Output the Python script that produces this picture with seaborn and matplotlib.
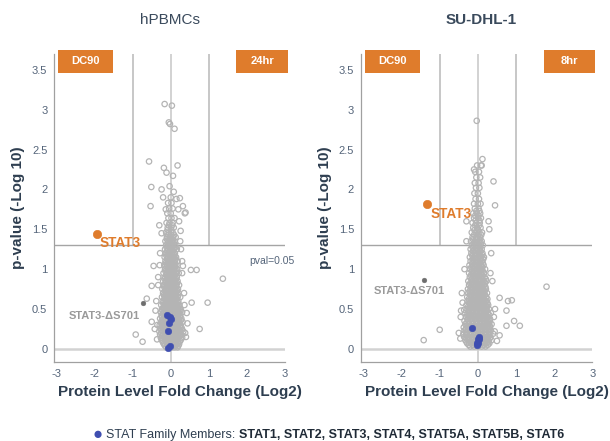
import matplotlib
matplotlib.use("Agg")
import matplotlib.pyplot as plt
import seaborn as sns
import pandas as pd
from matplotlib.patches import Rectangle

# ---- data (log2 fold change, -log10 p) ----

# hPBMCs: dense core, one row per -log10(p) level with the fold changes on it
pbmc_rows = [
    (0.02, [-0.12, -0.05, 0.03, 0.10, 0.18]),
    (0.04, [-0.15, -0.08, -0.01, 0.06, 0.13, 0.20]),
    (0.06, [-0.18, -0.08, 0.00, 0.07, 0.14, 0.22]),
    (0.08, [-0.20, -0.11, -0.03, 0.05, 0.12, 0.19]),
    (0.10, [-0.22, -0.14, -0.06, 0.02, 0.09, 0.16, 0.25]),
    (0.12, [-0.24, -0.13, -0.05, 0.04, 0.11, 0.19, 0.27]),
    (0.14, [-0.26, -0.17, -0.09, -0.01, 0.06, 0.13, 0.21, 0.30]),
    (0.16, [-0.22, -0.14, -0.06, 0.02, 0.09, 0.16, 0.24]),
    (0.18, [-0.28, -0.20, -0.12, -0.04, 0.04, 0.11, 0.19, 0.27]),
    (0.20, [-0.25, -0.16, -0.08, 0.00, 0.07, 0.15, 0.23]),
    (0.22, [-0.30, -0.22, -0.14, -0.06, 0.02, 0.09, 0.17, 0.25, 0.33]),
    (0.24, [-0.24, -0.16, -0.08, 0.00, 0.07, 0.14, 0.22, 0.30]),
    (0.26, [-0.27, -0.18, -0.10, -0.03, 0.05, 0.12, 0.20, 0.29]),
    (0.28, [-0.23, -0.14, -0.06, 0.01, 0.09, 0.16, 0.24]),
    (0.30, [-0.29, -0.21, -0.13, -0.05, 0.03, 0.10, 0.18, 0.26]),
    (0.32, [-0.25, -0.17, -0.09, -0.01, 0.07, 0.14, 0.22]),
    (0.34, [-0.25, -0.16, -0.08, 0.00, 0.08, 0.15, 0.23, 0.31]),
    (0.36, [-0.21, -0.12, -0.04, 0.04, 0.11, 0.19, 0.27]),
    (0.38, [-0.28, -0.19, -0.11, -0.03, 0.05, 0.13, 0.21, 0.28]),
    (0.40, [-0.23, -0.15, -0.07, 0.01, 0.09, 0.16, 0.24]),
    (0.42, [-0.24, -0.15, -0.07, 0.01, 0.09, 0.17, 0.25]),
    (0.44, [-0.20, -0.11, -0.03, 0.05, 0.13, 0.21]),
    (0.46, [-0.26, -0.18, -0.10, -0.02, 0.06, 0.14, 0.22, 0.30]),
    (0.48, [-0.22, -0.14, -0.06, 0.02, 0.10, 0.18, 0.26]),
    (0.50, [-0.23, -0.14, -0.06, 0.02, 0.10, 0.18, 0.26]),
    (0.525, [-0.19, -0.10, -0.02, 0.06, 0.14, 0.21]),
    (0.55, [-0.25, -0.16, -0.08, 0.00, 0.08, 0.16, 0.23]),
    (0.575, [-0.20, -0.12, -0.04, 0.04, 0.12, 0.19]),
    (0.60, [-0.21, -0.12, -0.04, 0.04, 0.12, 0.20]),
    (0.625, [-0.17, -0.08, 0.00, 0.08, 0.16]),
    (0.65, [-0.23, -0.14, -0.06, 0.02, 0.10, 0.18, 0.25]),
    (0.675, [-0.18, -0.10, -0.02, 0.06, 0.14, 0.20]),
    (0.70, [-0.20, -0.11, -0.03, 0.05, 0.13, 0.21]),
    (0.725, [-0.16, -0.07, 0.01, 0.09, 0.17]),
    (0.75, [-0.22, -0.13, -0.05, 0.03, 0.11, 0.19]),
    (0.775, [-0.17, -0.09, -0.01, 0.07, 0.15]),
    (0.80, [-0.18, -0.10, -0.02, 0.06, 0.14, 0.22]),
    (0.825, [-0.14, -0.06, 0.02, 0.10, 0.17]),
    (0.85, [-0.20, -0.12, -0.04, 0.04, 0.12, 0.18]),
    (0.875, [-0.16, -0.08, 0.00, 0.08, 0.14]),
    (0.90, [-0.16, -0.08, 0.00, 0.08, 0.16]),
    (0.925, [-0.12, -0.04, 0.04, 0.12]),
    (0.95, [-0.19, -0.10, -0.02, 0.06, 0.14, 0.21]),
    (0.975, [-0.14, -0.06, 0.02, 0.10, 0.16]),
    (1.00, [-0.15, -0.07, 0.01, 0.09, 0.17]),
    (1.025, [-0.11, -0.03, 0.05, 0.12]),
    (1.05, [-0.17, -0.09, -0.01, 0.07, 0.15]),
    (1.075, [-0.13, -0.05, 0.03, 0.11]),
    (1.10, [-0.14, -0.06, 0.02, 0.10, 0.18]),
    (1.125, [-0.10, -0.02, 0.06, 0.13]),
    (1.15, [-0.16, -0.08, 0.00, 0.08, 0.14]),
    (1.175, [-0.12, -0.04, 0.04, 0.10]),
    (1.20, [-0.13, -0.05, 0.03, 0.11]),
    (1.225, [-0.09, -0.01, 0.07]),
    (1.25, [-0.15, -0.07, 0.01, 0.09, 0.16]),
    (1.275, [-0.11, -0.03, 0.05, 0.12]),
    (1.30, [-0.12, -0.04, 0.04, 0.12]),
    (1.325, [-0.08, 0.00, 0.08]),
    (1.35, [-0.14, -0.06, 0.02, 0.10]),
    (1.375, [-0.10, -0.02, 0.06]),
    (1.40, [-0.10, -0.02, 0.06, 0.13]),
    (1.43, [-0.07, 0.01, 0.09]),
    (1.46, [-0.12, -0.04, 0.05]),
    (1.49, [-0.08, 0.02]),
    (1.52, [-0.08, 0.00, 0.08]),
    (1.55, [-0.05, 0.04]),
    (1.58, [-0.11, -0.03, 0.05]),
    (1.64, [-0.06, 0.02, 0.10]),
    (1.70, [-0.09, 0.00]),
    (1.76, [-0.04, 0.05]),
    (1.83, [-0.07, 0.02]),
]
pbmc_sparse_fc = [-0.16, 0.03, -0.05, -0.02, 0.10, -0.57, -0.18, 0.18, -0.11, 0.06,
                  -0.51, -0.24, -0.03, 0.08, 0.00, -0.53, 0.39, 0.24, 0.32, 0.37,
                  -0.13, 0.68, 0.53, 1.37, 0.97, 0.55, 0.76, -0.50, -0.63, -0.92,
                  -0.74, -0.50, -0.45, 0.32, -0.35, 0.38, 0.42, -0.38, 0.35, -0.33,
                  0.30, -0.28, 0.25, -0.30, 0.22, 0.20, -0.20, 0.15, -0.36, 0.36,
                  -0.40, 0.44, -0.33, 0.30, -0.29, 0.27, -0.42, 0.40, -0.24, 0.26]
pbmc_sparse_p = [3.07, 3.05, 2.84, 2.82, 2.76, 2.35, 2.27, 2.30, 2.21, 2.17,
                 2.03, 2.00, 2.04, 1.97, 1.90, 1.79, 1.71, 1.89, 1.79, 1.70,
                 1.75, 0.99, 0.99, 0.88, 0.58, 0.58, 0.25, 0.79, 0.63, 0.18,
                 0.09, 0.34, 1.04, 1.04, 0.30, 0.20, 0.45, 0.60, 0.70, 0.90,
                 1.10, 1.20, 1.35, 1.55, 1.60, 1.75, 1.90, 1.88, 0.12, 0.55,
                 0.48, 0.32, 0.80, 0.95, 1.05, 1.25, 0.25, 0.15, 1.45, 1.48]
pbmc_stat_fc = [-0.10, -0.01, 0.02, -0.04, -0.07, -0.01, -0.07]
pbmc_stat_p = [0.42, 0.40, 0.37, 0.33, 0.23, 0.04, 0.01]
pbmc_stat3 = (-1.95, 1.44)
pbmc_s701 = (-0.74, 0.58)

# SU-DHL-1
sudhl_rows = [
    (0.03, [-0.20, -0.10, 0.00, 0.10, 0.20]),
    (0.05, [-0.24, -0.14, -0.04, 0.06, 0.16, 0.26]),
    (0.07, [-0.28, -0.18, -0.08, 0.02, 0.12, 0.22, 0.30]),
    (0.09, [-0.30, -0.20, -0.10, 0.00, 0.10, 0.20, 0.28]),
    (0.11, [-0.33, -0.23, -0.13, -0.03, 0.07, 0.17, 0.27, 0.36]),
    (0.13, [-0.29, -0.19, -0.09, 0.01, 0.11, 0.21, 0.31]),
    (0.15, [-0.36, -0.26, -0.16, -0.06, 0.04, 0.14, 0.24, 0.33]),
    (0.17, [-0.31, -0.21, -0.11, -0.01, 0.09, 0.19, 0.28]),
    (0.19, [-0.38, -0.29, -0.19, -0.09, 0.01, 0.11, 0.21, 0.30, 0.40]),
    (0.21, [-0.30, -0.20, -0.10, 0.00, 0.10, 0.20, 0.30]),
    (0.23, [-0.35, -0.25, -0.15, -0.05, 0.05, 0.15, 0.25, 0.34]),
    (0.25, [-0.31, -0.21, -0.11, -0.01, 0.09, 0.19, 0.29]),
    (0.27, [-0.37, -0.27, -0.17, -0.07, 0.03, 0.13, 0.23, 0.32]),
    (0.29, [-0.29, -0.19, -0.09, 0.01, 0.11, 0.21, 0.31]),
    (0.31, [-0.33, -0.23, -0.13, -0.03, 0.07, 0.17, 0.27, 0.36]),
    (0.33, [-0.29, -0.19, -0.09, 0.01, 0.11, 0.21, 0.30]),
    (0.35, [-0.35, -0.25, -0.15, -0.05, 0.05, 0.15, 0.25, 0.31]),
    (0.375, [-0.27, -0.17, -0.07, 0.03, 0.13, 0.23, 0.32]),
    (0.40, [-0.31, -0.21, -0.11, -0.01, 0.09, 0.19, 0.28]),
    (0.425, [-0.28, -0.18, -0.08, 0.02, 0.12, 0.22, 0.30]),
    (0.45, [-0.33, -0.23, -0.13, -0.03, 0.07, 0.17, 0.26, 0.34]),
    (0.475, [-0.25, -0.15, -0.05, 0.05, 0.15, 0.24]),
    (0.50, [-0.29, -0.19, -0.09, 0.01, 0.11, 0.21, 0.29]),
    (0.525, [-0.26, -0.16, -0.06, 0.04, 0.14, 0.24]),
    (0.55, [-0.30, -0.20, -0.10, 0.00, 0.10, 0.20, 0.27]),
    (0.575, [-0.23, -0.13, -0.03, 0.07, 0.17, 0.25]),
    (0.60, [-0.27, -0.17, -0.07, 0.03, 0.13, 0.23]),
    (0.625, [-0.24, -0.14, -0.04, 0.06, 0.16, 0.25]),
    (0.65, [-0.28, -0.18, -0.08, 0.02, 0.12, 0.22]),
    (0.675, [-0.21, -0.11, -0.01, 0.09, 0.19]),
    (0.70, [-0.25, -0.15, -0.05, 0.05, 0.15, 0.24]),
    (0.725, [-0.22, -0.12, -0.02, 0.08, 0.18]),
    (0.75, [-0.26, -0.16, -0.06, 0.04, 0.14, 0.21]),
    (0.775, [-0.19, -0.09, 0.01, 0.11, 0.20]),
    (0.80, [-0.23, -0.13, -0.03, 0.07, 0.17]),
    (0.825, [-0.20, -0.10, 0.00, 0.10, 0.19]),
    (0.85, [-0.25, -0.15, -0.05, 0.05, 0.15, 0.22]),
    (0.875, [-0.17, -0.07, 0.03, 0.13, 0.21]),
    (0.90, [-0.21, -0.11, -0.01, 0.09, 0.18]),
    (0.925, [-0.18, -0.08, 0.02, 0.12]),
    (0.95, [-0.23, -0.13, -0.03, 0.07, 0.16]),
    (0.975, [-0.16, -0.06, 0.04, 0.13]),
    (1.00, [-0.20, -0.10, 0.00, 0.10, 0.19]),
    (1.025, [-0.17, -0.07, 0.03, 0.12]),
    (1.05, [-0.22, -0.12, -0.02, 0.08, 0.15]),
    (1.075, [-0.15, -0.05, 0.05, 0.13]),
    (1.10, [-0.19, -0.09, 0.01, 0.11]),
    (1.125, [-0.14, -0.04, 0.06, 0.14]),
    (1.15, [-0.21, -0.11, -0.01, 0.09, 0.16]),
    (1.175, [-0.15, -0.05, 0.05, 0.12]),
    (1.20, [-0.17, -0.07, 0.03, 0.12]),
    (1.225, [-0.13, -0.03, 0.07]),
    (1.25, [-0.19, -0.09, 0.01, 0.10]),
    (1.275, [-0.14, -0.04, 0.06]),
    (1.30, [-0.16, -0.06, 0.04, 0.13]),
    (1.325, [-0.11, -0.01, 0.08]),
    (1.35, [-0.18, -0.08, 0.02, 0.10]),
    (1.375, [-0.13, -0.03, 0.06]),
    (1.40, [-0.14, -0.04, 0.06]),
    (1.43, [-0.10, 0.00, 0.09]),
    (1.46, [-0.16, -0.06, 0.04, 0.11]),
    (1.49, [-0.09, 0.01]),
    (1.52, [-0.12, -0.02, 0.07]),
    (1.55, [-0.07, 0.03]),
    (1.58, [-0.14, -0.04, 0.05]),
    (1.61, [-0.06, 0.04]),
    (1.64, [-0.10, 0.00, 0.08]),
    (1.67, [-0.07, 0.02]),
    (1.70, [-0.12, -0.03, 0.06]),
    (1.73, [-0.04, 0.04]),
    (1.76, [-0.08, 0.02]),
    (1.82, [-0.10, 0.00, 0.07]),
    (1.88, [-0.06, 0.03]),
    (1.95, [-0.09, 0.00]),
    (2.02, [-0.05, 0.04]),
    (2.08, [-0.08, 0.02]),
    (2.15, [-0.04, 0.06]),
    (2.22, [-0.07, 0.03]),
    (2.30, [-0.02, 0.08]),
]
sudhl_sparse_fc = [-0.03, 0.12, 0.41, 0.45, -0.30, 0.30, 0.35, -0.35, 0.38, -0.42,
                   -0.45, 0.45, -0.50, 0.50, 1.80, -1.00, -1.42, 0.57, 0.89, 0.79,
                   0.75, 0.95, 1.10, 0.75, 0.57, -0.36, -0.44, -0.10, 0.10, -0.46,
                   0.44, -0.40, 0.42, -0.30, 0.33, 0.28]
sudhl_sparse_p = [2.86, 2.38, 2.10, 1.80, 1.60, 1.50, 1.20, 1.00, 0.85, 0.70,
                  0.40, 0.50, 0.20, 0.10, 0.78, 0.24, 0.11, 0.64, 0.61, 0.60,
                  0.48, 0.35, 0.29, 0.29, 0.17, 0.49, 0.48, 2.25, 2.30, 0.13,
                  0.22, 0.58, 0.40, 1.35, 0.95, 1.60]
sudhl_stat_fc = [-0.16, 0.03, 0.01, -0.01, -0.03, 0.04, 0.00]
sudhl_stat_p = [0.26, 0.15, 0.12, 0.08, 0.05, 0.13, 0.07]
sudhl_stat3 = (-1.33, 1.82)
sudhl_s701 = (-1.40, 0.86)

x_ticks = [-3, -2, -1, 0, 1, 2, 3]
y_ticks = [0, 0.5, 1, 1.5, 2, 2.5, 3, 3.5]
y_ticklabels = ["0", "0.5", "1", "1.5", "2", "2.5", "3", "3.5"]
pval_line = 1.301
stat_members = "STAT1, STAT2, STAT3, STAT4, STAT5A, STAT5B, STAT6"

ORANGE = "#DF7C2C"
BLUE = "#3F4EB0"
SLATE = "#2E3E50"
TICK = "#55657A"
PT_GREY = "#B4B4B4"

sns.set_theme(style="white")
plt.rcParams["font.family"] = ["Liberation Sans", "DejaVu Sans"]


def build_frame(rows, sparse_fc, sparse_p):
    fc, p = [], []
    for level, xs in rows:
        fc.extend(xs)
        p.extend([level] * len(xs))
    fc.extend(sparse_fc)
    p.extend(sparse_p)
    return pd.DataFrame({"fc": fc, "logp": p})


def draw_panel(ax, df, stat_fc, stat_p, stat3, s701, stat3_txt, s701_txt,
               title, title_bold, title_x, tag, show_pval):
    ax.set_xlim(-3.06, 3.0)
    ax.set_ylim(-0.165, 3.70)

    # reference lines
    ax.axvline(0, color="#CFCFCF", lw=1.3, zorder=0)
    for xv in (-1, 1):
        ax.plot([xv, xv], [pval_line, 3.70], color="#BDBDBD", lw=1.2, zorder=0)
    ax.axhline(0, color="#D2D2D2", lw=1.8, zorder=0)
    ax.axhline(pval_line, color="#A5A5A5", lw=1.0, zorder=0)

    sns.scatterplot(data=df, x="fc", y="logp", ax=ax, s=15, marker="o",
                    facecolor="none", edgecolor=PT_GREY, linewidth=0.9,
                    legend=False, zorder=2)
    sns.scatterplot(x=stat_fc, y=stat_p, ax=ax, s=22, color=BLUE,
                    edgecolor=BLUE, linewidth=0.4, legend=False, zorder=4)
    sns.scatterplot(x=[stat3[0]], y=[stat3[1]], ax=ax, s=36, color=ORANGE,
                    edgecolor=ORANGE, legend=False, zorder=4)
    sns.scatterplot(x=[s701[0]], y=[s701[1]], ax=ax, s=12, color="#6E6E6E",
                    edgecolor="#6E6E6E", legend=False, zorder=4)

    ax.text(stat3_txt[0], stat3_txt[1], "STAT3", color=ORANGE, fontsize=9.8,
            fontweight="bold", ha="left", va="center", zorder=5)
    ax.text(s701_txt[0], s701_txt[1], "STAT3-\u0394S701", color="#9A9A9A",
            fontsize=8, fontweight="bold", ha="center", va="center", zorder=5)
    if show_pval:
        ax.text(3.26, 1.10, "pval=0.05", color=TICK, fontsize=7.5,
                ha="right", va="center", clip_on=False)

    # orange tag boxes at the top corners
    for x0, x1, label in [(0.017, 0.253, "DC90"), (0.789, 1.013, tag)]:
        ax.add_patch(Rectangle((x0, 0.939), x1 - x0, 0.074, transform=ax.transAxes,
                               facecolor=ORANGE, edgecolor="none", clip_on=False,
                               zorder=6))
        ax.text((x0 + x1) / 2, 0.976, label, transform=ax.transAxes, color="white",
                fontsize=8, fontweight="bold", ha="center", va="center", zorder=7)

    ax.set_xticks(x_ticks)
    ax.set_xticklabels([str(v) for v in x_ticks])
    ax.set_yticks(y_ticks)
    ax.set_yticklabels(y_ticklabels)
    ax.tick_params(axis="both", labelsize=8, colors=TICK, length=3, width=0.8,
                   direction="out", pad=2)
    ax.tick_params(axis="both", color="#9A9A9A")
    for side in ("top", "right"):
        ax.spines[side].set_visible(False)
    for side in ("left", "bottom"):
        ax.spines[side].set_color("#A0A0A0")
        ax.spines[side].set_linewidth(0.9)

    ax.set_xlabel("Protein Level Fold Change (Log2)", fontsize=11,
                  fontweight="bold", color=SLATE)
    ax.set_ylabel("p-value (-Log 10)", fontsize=11, fontweight="bold", color=SLATE)
    ax.xaxis.set_label_coords(0.545, -0.075)
    ax.yaxis.set_label_coords(-0.125, 0.5)

    ax.text(title_x, 1.11, title, transform=ax.transAxes, fontsize=11,
            fontweight="bold" if title_bold else "normal", color="#3A4A5C",
            ha="center", va="center")


fig = plt.figure(figsize=(6.10, 4.41), dpi=100)
ax1 = fig.add_axes([0.089, 0.179, 0.378, 0.699])
ax2 = fig.add_axes([0.592, 0.179, 0.379, 0.699])

pbmc_df = build_frame(pbmc_rows, pbmc_sparse_fc, pbmc_sparse_p)
sudhl_df = build_frame(sudhl_rows, sudhl_sparse_fc, sudhl_sparse_p)

draw_panel(ax1, pbmc_df, pbmc_stat_fc, pbmc_stat_p, pbmc_stat3, pbmc_s701,
           (-1.87, 1.33), (-1.74, 0.41), "hPBMCs", False, 0.50, "24hr", True)
draw_panel(ax2, sudhl_df, sudhl_stat_fc, sudhl_stat_p, sudhl_stat3, sudhl_s701,
           (-1.24, 1.69), (-1.80, 0.72), "SU-DHL-1", True, 0.52, "8hr", False)

# bottom legend line: blue dot, plain lead-in, then bold member list
leg_y = 6 / 441
fig.text(98 / 610, leg_y, "\u25CF", color=BLUE, fontsize=12, ha="center",
         va="center")
lead = fig.text(106 / 610, leg_y, "STAT Family Members: ", color=SLATE,
                fontsize=9, ha="left", va="center")
fig.canvas.draw()
lead_end = lead.get_window_extent().x1 / fig.bbox.width
fig.text(lead_end, leg_y, stat_members, color="#1F2A36", fontsize=9,
         fontweight="bold", ha="left", va="center")

fig.savefig("out.png", dpi=100)
